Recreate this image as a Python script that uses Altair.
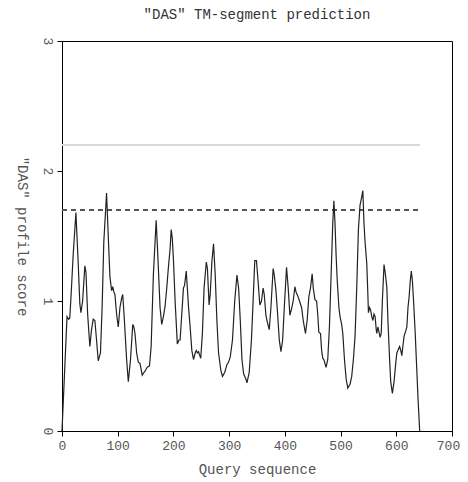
import altair as alt
import pandas as pd

positions = [0, 9, 12, 14, 17, 20, 25, 29, 32, 34, 37, 41, 43, 46, 50, 53, 56, 59, 62, 65,
             69, 72, 75, 80, 83, 86, 89, 91, 93, 95, 98, 101, 104, 107, 109, 112, 116, 119, 123, 127,
             129, 131, 134, 137, 140, 144, 147, 149, 153, 157, 160, 164, 169, 172, 176, 179, 182, 185, 188, 191,
             194, 196, 198, 200, 203, 207, 210, 212, 215, 218, 220, 223, 225, 227, 230, 233, 236, 239, 241, 243,
             245, 249, 252, 255, 259, 261, 264, 266, 269, 272, 275, 278, 281, 285, 288, 292, 296, 299, 302, 306,
             310, 314, 317, 320, 323, 326, 330, 332, 336, 340, 343, 346, 349, 352, 355, 358, 361, 363, 366, 369,
             372, 375, 379, 381, 384, 387, 390, 393, 396, 399, 403, 406, 409, 412, 415, 418, 420, 422, 424, 427,
             430, 433, 437, 440, 443, 446, 449, 451, 454, 457, 459, 461, 464, 466, 468, 470, 474, 477, 480, 483,
             486, 488, 490, 492, 494, 497, 499, 502, 504, 507, 510, 513, 517, 520, 523, 526, 529, 532, 535, 537,
             540, 542, 544, 547, 549, 550, 552, 554, 556, 558, 560, 562, 564, 565, 567, 569, 571, 573, 575, 578,
             580, 583, 585, 588, 590, 593, 596, 599, 601, 604, 606, 608, 610, 612, 614, 617, 619, 621, 623, 625,
             627, 629, 631, 634, 636, 639, 642]
scores = [0.0, 0.88, 0.86, 0.87, 1.1, 1.35, 1.68, 1.3, 0.98, 0.91, 1.0, 1.27, 1.22, 0.9, 0.65, 0.78, 0.86, 0.85, 0.7, 0.54,
          0.6, 0.95, 1.45, 1.83, 1.5, 1.19, 1.08, 1.11, 1.07, 1.05, 0.9, 0.8, 0.95, 1.02, 1.05, 0.85, 0.55, 0.38, 0.55, 0.82,
          0.8, 0.75, 0.6, 0.53, 0.52, 0.43, 0.45, 0.46, 0.49, 0.5, 0.65, 1.2, 1.62, 1.35, 0.95, 0.82, 0.88, 0.96, 1.1, 1.26,
          1.4, 1.55, 1.48, 1.32, 1.0, 0.67, 0.7, 0.7, 0.9, 1.1, 1.12, 1.23, 1.1, 0.96, 0.8, 0.62, 0.55, 0.6, 0.62, 0.6,
          0.61, 0.56, 0.75, 1.1, 1.3, 1.25, 0.97, 1.05, 1.3, 1.44, 1.2, 0.85, 0.6, 0.47, 0.42, 0.45, 0.51, 0.53, 0.57, 0.7,
          1.0, 1.2, 1.1, 0.85, 0.55, 0.44, 0.4, 0.37, 0.45, 0.7, 1.0, 1.31, 1.31, 1.15, 0.97, 1.0, 1.1, 1.05, 0.89, 0.83,
          0.78, 0.95, 1.25, 1.2, 1.08, 0.9, 0.7, 0.61, 0.7, 0.95, 1.26, 1.1, 0.89, 0.94, 1.0, 1.11, 1.07, 1.05, 1.03, 0.99,
          0.95, 0.85, 0.75, 0.85, 1.03, 1.1, 1.21, 1.1, 1.01, 1.0, 0.9, 0.76, 0.75, 0.62, 0.56, 0.55, 0.49, 0.55, 0.8, 1.2,
          1.6, 1.77, 1.6, 1.35, 1.16, 0.95, 0.88, 0.82, 0.75, 0.55, 0.4, 0.33, 0.36, 0.42, 0.55, 0.73, 1.1, 1.55, 1.74, 1.78,
          1.85, 1.6, 1.45, 1.29, 1.05, 0.91, 0.95, 0.93, 0.88, 0.85, 0.9, 0.88, 0.78, 0.75, 0.8, 0.76, 0.72, 0.75, 1.0, 1.28,
          1.22, 1.11, 0.85, 0.55, 0.38, 0.29, 0.38, 0.52, 0.6, 0.63, 0.65, 0.62, 0.58, 0.66, 0.73, 0.77, 0.8, 0.95, 1.03, 1.15,
          1.23, 1.15, 1.0, 0.75, 0.55, 0.25, 0.0]

seq_len = 642
strict_cutoff = 1.7
loose_cutoff = 2.2
x_ticks = [0, 100, 200, 300, 400, 500, 600, 700]
y_ticks = [0, 1, 2, 3]

df = pd.DataFrame({"pos": positions, "score": scores})
FONT = "Courier New, Courier, Nimbus Mono PS, FreeMono, Liberation Mono, monospace"

xs = alt.Scale(domain=[0, 700], nice=False)
ys = alt.Scale(domain=[0, 3], nice=False)

line = alt.Chart(df).mark_line(color="#222222", strokeWidth=1.2).encode(
    x=alt.X("pos:Q", scale=xs, title="Query sequence",
            axis=alt.Axis(values=x_ticks, format="d", grid=False, tickSize=5, labelPadding=3,
                          labelFlush=False, titlePadding=10,
                          labelOffset={"expr": "datum.value == 700 ? -4 : 0"})),
    y=alt.Y("score:Q", scale=ys, title='"DAS" profile score',
            axis=alt.Axis(values=y_ticks, format="d", grid=False, tickSize=5, labelAngle=90,
                          labelAlign="center", labelBaseline="top", labelPadding=4,
                          labelFlush=False, titleAngle=90, titleBaseline="top", titlePadding=12)),
)

loose = alt.Chart(df).mark_rule(color="#d8d8d8", strokeWidth=1).encode(
    x=alt.datum(0, scale=xs), x2=alt.datum(seq_len), y=alt.datum(loose_cutoff, scale=ys)
)
strict = alt.Chart(df).mark_rule(color="#555555", strokeWidth=1.2, strokeDash=[5, 4]).encode(
    x=alt.datum(0, scale=xs), x2=alt.datum(seq_len), y=alt.datum(strict_cutoff, scale=ys)
)

chart = alt.layer(loose, strict, line).properties(
    width=390, height=390,
    title=alt.TitleParams('"DAS" TM-segment prediction', font=FONT, fontSize=14,
                          fontWeight="normal", color="#333333", offset=15),
    autosize=alt.AutoSizeParams(type="none"),
    padding={"left": 54, "top": 33, "right": 8, "bottom": 47},
).configure_view(stroke="#000000", strokeWidth=1).configure_axis(
    labelFont=FONT, labelFontSize=13, labelColor="#555555",
    titleFont=FONT, titleFontSize=14, titleFontWeight="normal", titleColor="#555555",
    domainColor="#000000", tickColor="#000000", domainWidth=1,
)

chart.save("out.html", embed_options={"renderer": "svg", "actions": False})
